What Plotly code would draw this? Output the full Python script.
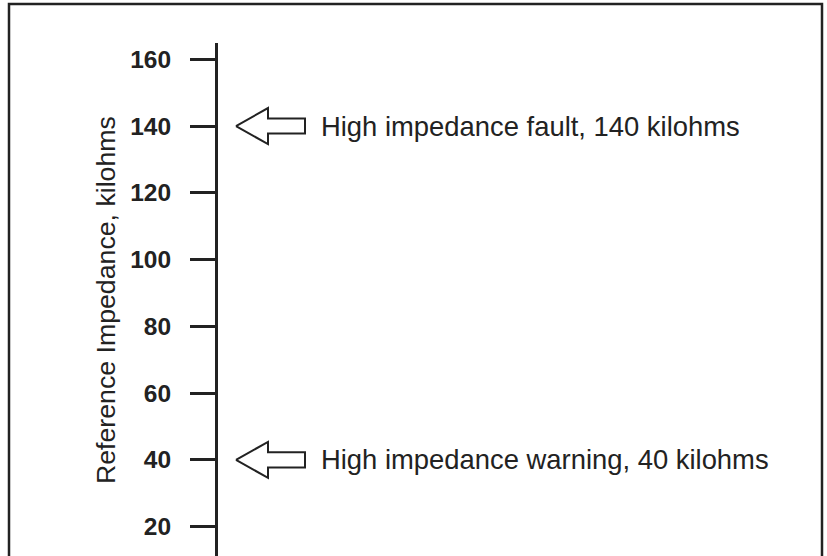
import plotly.graph_objects as go

# data
tick_values = [20, 40, 60, 80, 100, 120, 140, 160]
threshold_levels = [140, 40]
threshold_labels = [
    "High impedance fault, 140 kilohms",
    "High impedance warning, 40 kilohms",
]
axis_title = "Reference Impedance, kilohms"

INK = "#222222"
FONT = "Liberation Sans, Arial, sans-serif"

L, W, T, H = 218, 609, 43, 513

# hollow block arrow, offsets in axis units (x in px from axis, y in kilohms)
TIP_X, HEAD_X, TAIL_X = 18, 50, 87
HEAD_H, SHAFT_H = 5.4, 2.25
TEXT_X = 101

fig = go.Figure()

for level in threshold_levels:
    xs = [TIP_X, HEAD_X, HEAD_X, TAIL_X, TAIL_X, HEAD_X, HEAD_X, TIP_X]
    ys = [
        level,
        level + HEAD_H,
        level + SHAFT_H,
        level + SHAFT_H,
        level - SHAFT_H,
        level - SHAFT_H,
        level - HEAD_H,
        level,
    ]
    fig.add_trace(
        go.Scatter(
            x=xs,
            y=ys,
            mode="lines",
            line={"color": INK, "width": 2},
            hoverinfo="skip",
            showlegend=False,
        )
    )

for level, label in zip(threshold_levels, threshold_labels):
    fig.add_annotation(
        x=TEXT_X,
        y=level,
        text=label,
        showarrow=False,
        xanchor="left",
        yanchor="middle",
        font={"family": FONT, "size": 27.4, "color": INK},
    )

fig.add_annotation(
    xref="paper",
    yref="paper",
    x=(106 - L) / W,
    y=(556 - 300) / H,
    text=axis_title,
    textangle=-90,
    showarrow=False,
    xanchor="center",
    yanchor="middle",
    font={"family": FONT, "size": 26.7, "color": INK},
)

# outer frame, open at the bottom like the scanned figure
fig.add_shape(
    type="rect",
    xref="paper",
    yref="paper",
    x0=(9 - L) / W,
    x1=(822 - L) / W,
    y0=-0.2,
    y1=(556 - 4) / H,
    line={"color": INK, "width": 2.5},
    layer="above",
)

fig.update_xaxes(visible=False, range=[0, W], fixedrange=True)
fig.update_yaxes(
    range=[11.2, 164.9],
    tickvals=tick_values,
    ticktext=[str(v) for v in tick_values],
    ticks="outside",
    ticklen=25,
    tickwidth=3,
    tickcolor=INK,
    showline=True,
    linewidth=3,
    linecolor=INK,
    showgrid=False,
    zeroline=False,
    ticklabelstandoff=14,
    tickfont={"family": FONT, "size": 24.5, "color": INK, "weight": "bold"},
)

fig.update_layout(
    width=827,
    height=556,
    margin={"l": L, "r": 0, "t": T, "b": 0},
    paper_bgcolor="white",
    plot_bgcolor="white",
)

fig.write_html(
    "out.html",
    config={"displayModeBar": False},
    post_script="document.body.style.margin = '0';",
)
